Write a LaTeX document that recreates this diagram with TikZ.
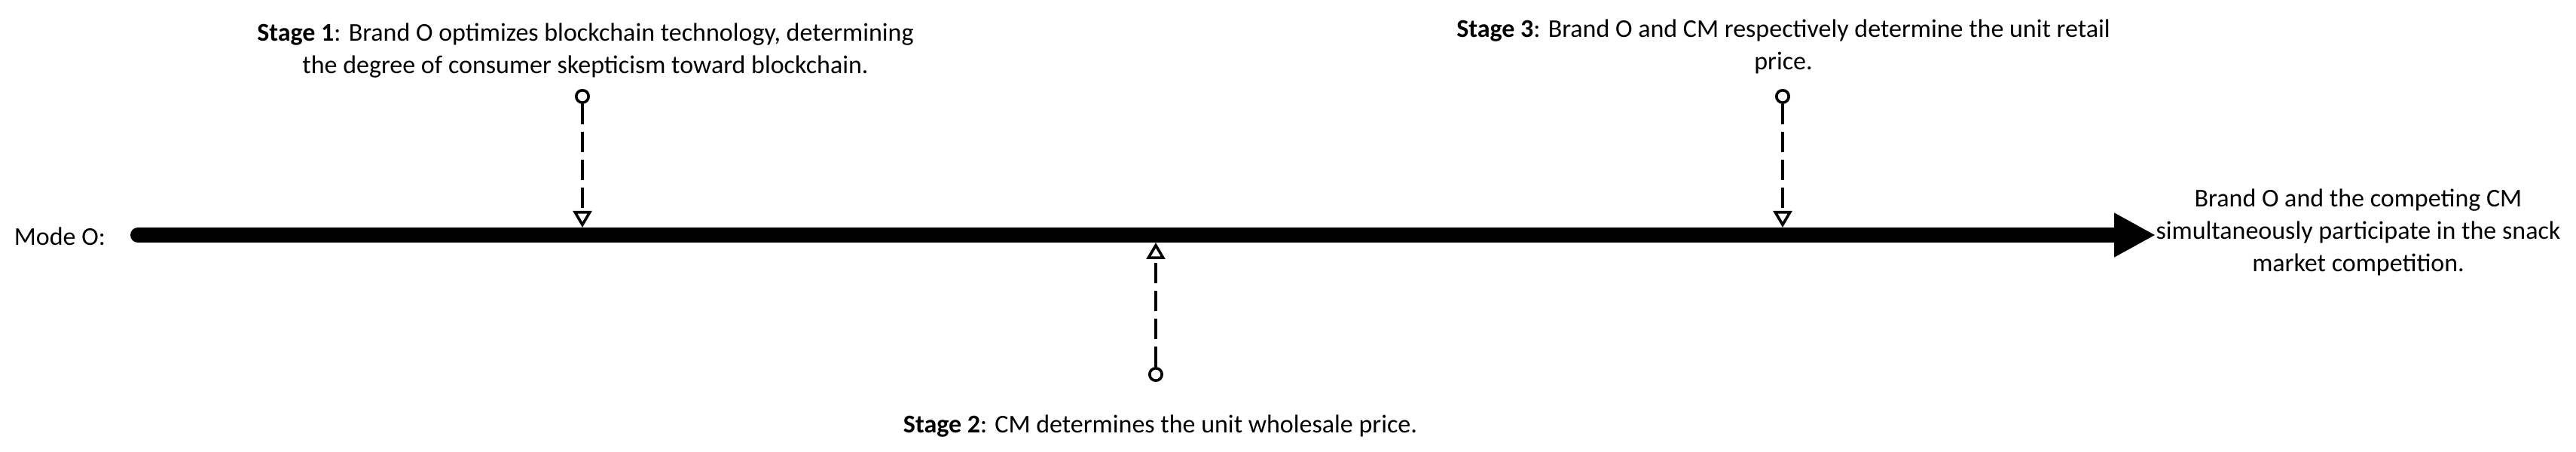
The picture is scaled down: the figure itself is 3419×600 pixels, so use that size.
\documentclass[tikz,border=0pt]{standalone}
\usepackage{fontspec}
\setmainfont{Carlito}
\usepackage{tikz}
\usetikzlibrary{arrows.meta,positioning}
\tikzstyle{txt}=[inner sep=0pt, align=center, font=\fontsize{8.5}{10.75}\selectfont]
\tikzstyle{ring}=[circle, draw=black, fill=white, minimum size=4.1pt, line width=0.9pt, inner sep=0pt]
\tikzstyle{ldash}=[line width=0.9pt, dash pattern=on 6.75pt off 2.5pt, -{Triangle[open, length=5.5pt, width=6.2pt]}]
\tikzstyle{lmain}=[line width=5pt, line cap=round, -{Triangle[length=13.75pt, width=13.75pt]}]

\begin{document}
\begin{tikzpicture}[x=0.25pt,y=0.25pt]
    \useasboundingbox (0,0) rectangle (3419,600);
    \coordinate (s) at (183,288);
    \coordinate (e) at (2861,288);
    \draw[lmain] (s) -- (e);
    \node[txt, anchor=base west] (mode) at (18,274) {Mode O:};
    \node[txt] (out) at (3130,292) {Brand O and the competing CM\\simultaneously participate in the snack\\market competition.};

    \node[ring] (c1) at (773,472) {};
    \node[ring] (c2) at (1534,103) {};
    \node[ring] (c3) at (2366,472) {};
    \coordinate (p1) at (773,298);
    \coordinate (p2) at (1534,278);
    \coordinate (p3) at (2366,298);
    \draw[ldash] (c1) -- (p1);
    \draw[ldash] (c2) -- (p2);
    \draw[ldash] (c3) -- (p3);

    \node[txt] (s1) at (777,533) {\textbf{Stage 1}: Brand O optimizes blockchain technology, determining\\the degree of consumer skepticism toward blockchain.};
    \node[txt, anchor=base] (s2) at (1540,25) {\textbf{Stage 2}: CM determines the unit wholesale price.};
    \node[txt] (s3) at (2367,538) {\textbf{Stage 3}: Brand O and CM respectively determine the unit retail\\price.};
\end{tikzpicture}
\end{document}
